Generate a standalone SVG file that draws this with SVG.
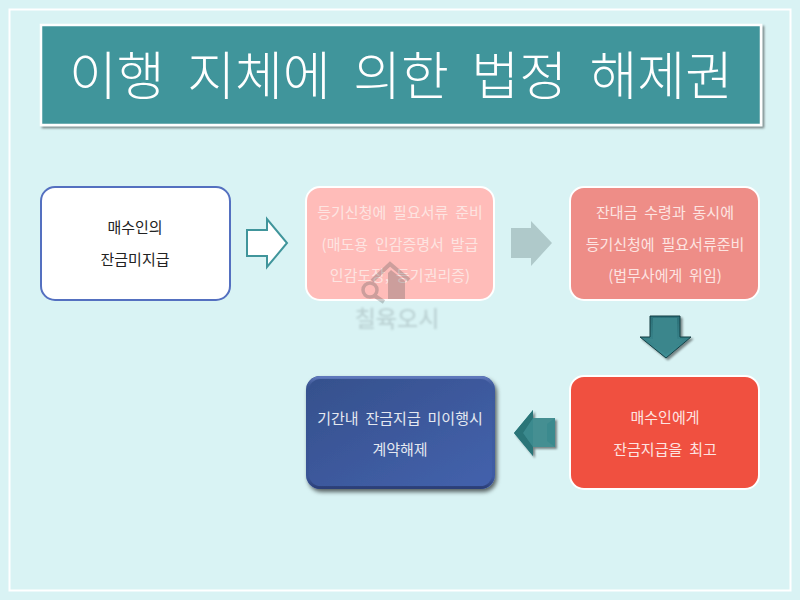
<svg xmlns="http://www.w3.org/2000/svg" width="800" height="600" viewBox="0 0 800 600">
<style>
text{font-family:"Noto Sans CJK KR","Noto Sans",sans-serif;text-anchor:middle;font-size:15px;word-spacing:3.5px}
.w{fill:#fff}.p{fill:#fde4e1}.box{stroke:#fff;stroke-width:2}.d{fill:#222}.l{fill:#e4e8f0}
</style>
<defs>
<linearGradient id="blue" x1="0" y1="0" x2="1" y2="1"><stop offset="0" stop-color="#35508c"/><stop offset="1" stop-color="#4462ad"/></linearGradient>
<linearGradient id="rim" x1="0" y1="0" x2="0" y2="1"><stop offset="0" stop-color="#5f78bb"/><stop offset=".1" stop-color="#3d5593" stop-opacity=".15"/><stop offset=".9" stop-color="#2d4480" stop-opacity=".15"/><stop offset="1" stop-color="#2c3f78"/></linearGradient>
<linearGradient id="teal" x1="0" y1="0" x2="0" y2="1"><stop offset="0" stop-color="#2c7078"/><stop offset="1" stop-color="#3f8f95"/></linearGradient>
<filter id="sh" x="-10%" y="-10%" width="125%" height="125%"><feDropShadow dx="2" dy="3" stdDeviation="2" flood-color="#000" flood-opacity=".6"/></filter>
<filter id="sh2" x="-10%" y="-10%" width="120%" height="130%"><feDropShadow dx="2" dy="2" stdDeviation="1" flood-color="#000" flood-opacity=".45"/></filter>
<filter id="blur" x="-10%" y="-20%" width="120%" height="140%"><feGaussianBlur stdDeviation=".8"/></filter>
</defs>
<rect width="800" height="600" fill="#d9f3f4"/>
<rect x="9.500" y="9.500" width="781" height="581" fill="none" stroke="#fff" stroke-width="2"/>
<g id="title"><rect x="41" y="25" width="720" height="100" fill="#40959b" stroke="#fff" stroke-width="2.500" filter="url(#sh2)"/>
<text x="401" y="95" class="w" style="font-size:52px;font-weight:300;word-spacing:11px">이행 지체에 의한 법정 해제권</text></g>
<g id="connectors">
<path d="M247 230H267V219L287 243 267 267V256H247Z" fill="#fff" stroke="#40959b" stroke-width="2"/>
<path d="M511 228H531V221L552 243 531 266V258H511Z" fill="#afc9ca"/>
<g filter="url(#sh2)"><path d="M650 316H680V337H691L666 358 640 337H650Z" fill="url(#teal)" stroke="#123f45"/>
<path d="M653 318H677V339H684L666 354 647 339H653Z" fill="#3b868c"/></g>
<g filter="url(#sh2)"><path d="M514 433L533 410V418H555V447H533V456Z" fill="#3b8a8e"/>
<path d="M514 433L533 410V418L523 433 533 447V456Z" fill="#2a7478"/>
<path d="M533 418H555L547 424V441L555 447H533Z" fill="#458f92"/></g>
</g>
<g id="node1"><rect x="41" y="187" width="189" height="113" rx="14" fill="#fff" stroke="#5470c0" stroke-width="2"/>
<text x="135" y="233" class="d">매수인의</text><text x="135" y="265" class="d">잔금미지급</text></g>
<g id="node2"><rect x="306" y="187" width="188" height="113" rx="14" fill="#ffbcb9" class="box"/>
<text x="400" y="218" class="p">등기신청에 필요서류 준비</text><text x="400" y="250" class="p">(매도용 인감증명서 발급</text><text x="400" y="281" class="p">인감도장, 등기권리증)</text></g>
<g id="node3"><rect x="570" y="187" width="189" height="113" rx="14" fill="#ee8d87" class="box"/>
<text x="665" y="218" class="p">잔대금 수령과 동시에</text><text x="665" y="250" class="p">등기신청에 필요서류준비</text><text x="665" y="281" class="p">(법무사에게 위임)</text></g>
<g id="node4"><rect x="570" y="376" width="189" height="113" rx="14" fill="#f05040" class="box"/>
<text x="665" y="423" class="p">매수인에게</text><text x="665" y="455" class="p">잔금지급을 최고</text></g>
<g id="node5"><rect x="306" y="376" width="189" height="113" rx="14" fill="url(#blue)" filter="url(#sh)"/>
<rect x="307.500" y="377.500" width="186" height="110" rx="13" fill="none" stroke="url(#rim)" stroke-width="3"/>
<text x="400" y="424" class="l">기간내 잔금지급 미이행시</text><text x="400" y="455" class="l">계약해제</text></g>
<g id="watermark"><g opacity=".3"><path d="M372 281L390 264 409 280" fill="none" stroke="#5a5a5a" stroke-width="4"/>
<path d="M388 273L391 270 405 281V299H388Z" fill="#5a5a5a"/>
<circle cx="370" cy="290" r="7" fill="none" stroke="#5a5a5a" stroke-width="3.500"/><path d="M375 296L384 302" stroke="#5a5a5a" stroke-width="4"/></g>
<text x="397" y="327" filter="url(#blur)" opacity=".3" style="font-size:23px;fill:#7a8a8c;font-weight:500;word-spacing:0">칠육오시</text></g>
</svg>
